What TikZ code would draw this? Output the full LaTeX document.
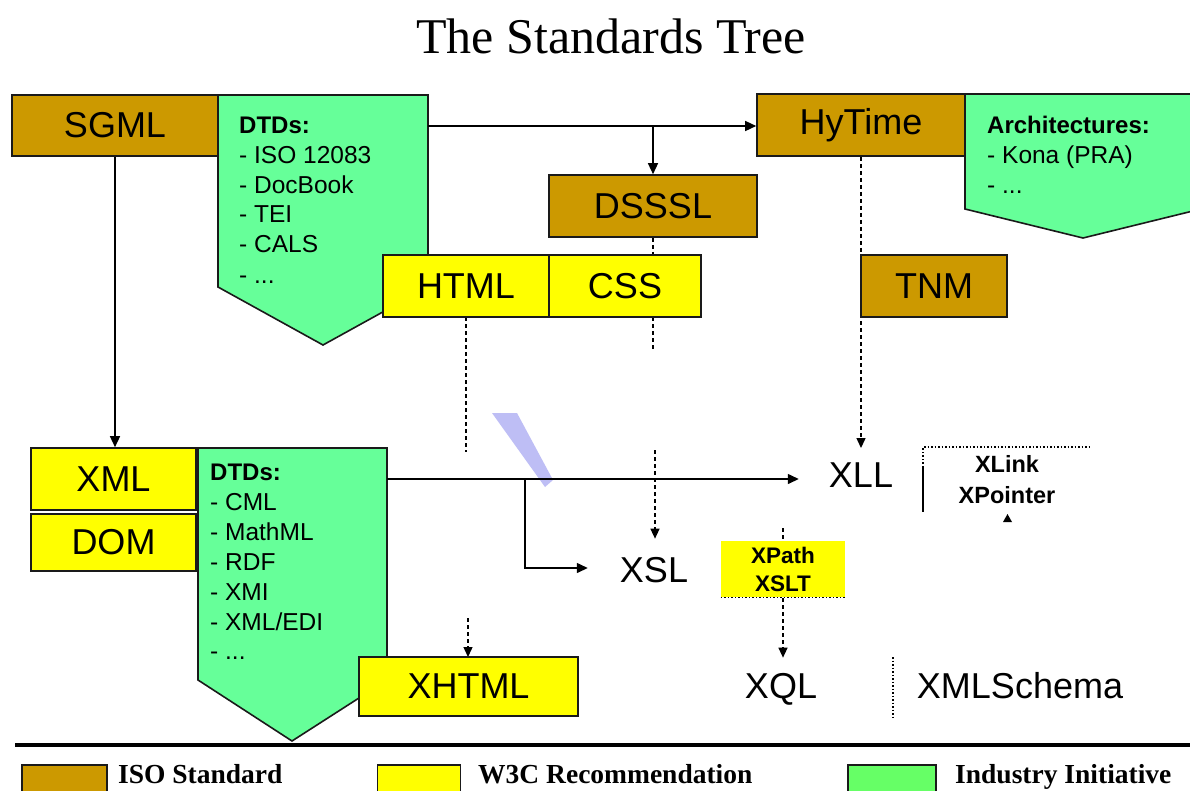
\documentclass[tikz,border=0pt]{standalone}
\usepackage{fontspec}
\setmainfont{Liberation Serif}
\newfontfamily\arial{Liberation Sans}
\usetikzlibrary{arrows.meta}
\definecolor{isoc}{HTML}{CC9900}
\definecolor{wtc}{HTML}{FFFF00}
\definecolor{indc}{HTML}{66FF99}
\definecolor{indleg}{HTML}{66FF66}
\definecolor{slashc}{HTML}{BEBEF5}
\definecolor{edgec}{HTML}{1A1A1A}
\begin{document}
\begin{tikzpicture}[x=1pt,y=-1pt,
  box/.style={draw=edgec, line width=1.6pt, inner sep=0pt, font=\arial\fontsize{36}{40}\selectfont},
  isobox/.style={box, fill=isoc},
  w3cbox/.style={box, fill=wtc},
  indshape/.style={draw=edgec, line width=1.6pt, fill=indc, line join=miter},
  big/.style={font=\arial\fontsize{36}{40}\selectfont, inner sep=0pt, anchor=base},
  smalltxt/.style={font=\arial\fontsize{24.5}{28}\selectfont, inner sep=0pt, anchor=base west},
  smallbold/.style={font=\arial\bfseries\fontsize{24}{28}\selectfont, inner sep=0pt, anchor=base west},
  link/.style={line width=1.4pt, -{Triangle[length=11pt,width=10pt]}},
  plainline/.style={line width=1.4pt},
  dashlink/.style={line width=1.3pt, dash pattern=on 4pt off 3pt, -{Triangle[length=10pt,width=9pt]}},
  dashline/.style={line width=1.3pt, dash pattern=on 4pt off 3pt},
  dotline/.style={line width=1.2pt, dash pattern=on 1.5pt off 2pt},
  legbox/.style={draw=edgec, line width=1.5pt, inner sep=0pt, minimum height=36pt},
  legtxt/.style={font=\bfseries\fontsize{27.5}{30}\selectfont, inner sep=0pt, anchor=base west},
]
\useasboundingbox (0,0) rectangle (1190,790);
\clip (0,0) rectangle (1190,790);
\fill[white] (0,0) rectangle (1190,790);

% title
\node[font=\fontsize{50}{60}\selectfont, inner sep=0pt, anchor=base] (title) at (611,53) {The Standards Tree};

% blue slash
\fill[slashc] (492,413) -- (517,413) -- (553,480) -- (545,487) -- cycle;

% industry shapes
\draw[indshape] (218,95) -- (428,95) -- (428,287) -- (323,345) -- (218,287) -- cycle;
\draw[indshape] (965,94) -- (1201,94) -- (1201,209) -- (1083,238) -- (965,209) -- cycle;
\draw[indshape] (198,448) -- (387,448) -- (387,680) -- (292,741) -- (198,680) -- cycle;
\coordinate (dtdA) at (428,126);
\coordinate (dtdB) at (387,479);

% texts in industry shapes
\node[smallbold] (d1h) at (239,133) {DTDs:};
\node[smalltxt] (d1a) at (239,163) {- ISO 12083};
\node[smalltxt] (d1b) at (239,193) {- DocBook};
\node[smalltxt] (d1c) at (239,222) {- TEI};
\node[smalltxt] (d1d) at (239,252) {- CALS};
\node[smalltxt] (d1e) at (239,283) {- ...};

\node[smallbold] (arh) at (987,133) {Architectures:};
\node[smalltxt] (ara) at (987,163) {- Kona (PRA)};
\node[smalltxt] (arb) at (987,193) {- ...};

\node[smallbold] (d2h) at (210,480) {DTDs:};
\node[smalltxt] (d2a) at (210,510) {- CML};
\node[smalltxt] (d2b) at (210,540) {- MathML};
\node[smalltxt] (d2c) at (210,570) {- RDF};
\node[smalltxt] (d2d) at (210,600) {- XMI};
\node[smalltxt] (d2e) at (210,630) {- XML/EDI};
\node[smalltxt] (d2f) at (210,659) {- ...};

% plain text nodes
\node[big] (xll) at (861,487) {XLL};
\node[big] (xsl) at (654,582) {XSL};
\node[big] (xql) at (781,698) {XQL};
\node[big] (xmls) at (1020,698) {XMLSchema};

% coordinates
\coordinate (brA) at (653,126);
\coordinate (brB) at (525,479);
\coordinate (xslin) at (655,450);
\coordinate (xhin) at (468,618);
\coordinate (xqin) at (783,528);

% boxes
\node[isobox, minimum width=206pt, minimum height=61pt] (sgml) at (115,125.5) {SGML};
\node[isobox, minimum width=208pt, minimum height=62pt] (hytime) at (861,125) {HyTime};
\node[isobox, minimum width=208pt, minimum height=62pt] (dsssl) at (653,206) {DSSSL};

% dashed connectors drawn before lower boxes
\draw[dashline] (hytime.south) -- (hytime.south |- 0,300);
\draw[dashlink, shorten >=14pt] (hytime.south |- 0,300) -- (xll.north);
\draw[dashline] (dsssl.south) -- (dsssl.south |- 0,255);
\draw[dashline] (dsssl.south |- 0,317) -- (dsssl.south |- 0,350);
\draw[dashline] (466,317) -- (466,452);
\draw[dashlink, shorten >=18pt] (xslin) -- (xslin |- xsl.north);
\draw[dashlink] (xhin) -- (xhin |- 0,657);
\draw[dashlink, shorten >=15pt] (xqin) -- (xqin |- xql.north);

\node[w3cbox, minimum width=166pt, minimum height=62pt] (html) at (466,286) {HTML};
\node[w3cbox, minimum width=152pt, minimum height=62pt] (css) at (625,286) {CSS};
\node[isobox, minimum width=146pt, minimum height=62pt] (tnm) at (934,286) {TNM};
\node[w3cbox, minimum width=165pt, minimum height=62pt] (xml) at (113.5,479) {XML};
\node[w3cbox, minimum width=165pt, minimum height=57pt] (dom) at (113.5,542.5) {DOM};
\node[w3cbox, minimum width=219pt, minimum height=59pt] (xhtml) at (468.5,686.5) {XHTML};

% XPath / XSLT
\node[fill=wtc, minimum width=124pt, minimum height=56pt, inner sep=0pt, align=center,
      font=\arial\bfseries\fontsize{22.5}{28}\selectfont] (xpath) at (783,569) {XPath\\XSLT};
\draw[dotline] (xpath.south west) -- (xpath.south east);
\draw[dashline] (xqin) -- (xqin |- xpath.north);

% solid connectors
\draw[link] (sgml.south) -- (sgml.south |- xml.north);
\draw[link] (dtdA) -- (hytime.west |- dtdA);
\draw[link] (brA) -- (dsssl.north);
\draw[link, shorten >=30pt] (dtdB) -- (dtdB -| xll.west);
\draw[link, shorten >=32pt] (brB) |- (xsl.west |- 0,568);

% XLink / XPointer
\node[font=\arial\bfseries\fontsize{23.5}{31}\selectfont, inner sep=0pt, align=center] (xlink) at (1007,480) {XLink\\XPointer};
\draw[dotline] (923,467) -- (923,447) -- (1090,447);
\draw[line width=1.2pt] (923,467) -- (923,512);
\fill (1003,522) -- (1012,522) -- (1007.5,514) -- cycle;
\draw[dotline] (893,657) -- (893,717);

% legend
\draw[line width=3.5pt] (15,745) -- (1190,745);
\node[legbox, fill=isoc, minimum width=85pt] (legiso) at (64.5,783) {};
\node[legbox, fill=wtc, minimum width=83pt] (legw3c) at (419,783) {};
\node[legbox, fill=indleg, minimum width=88pt] (legind) at (892,783) {};
\node[legtxt] (tiso) at (118,783.5) {ISO Standard};
\node[legtxt] (tw3c) at (478,783.5) {W3C Recommendation};
\node[legtxt] (tind) at (955,783.5) {Industry Initiative};
\end{tikzpicture}
\end{document}
